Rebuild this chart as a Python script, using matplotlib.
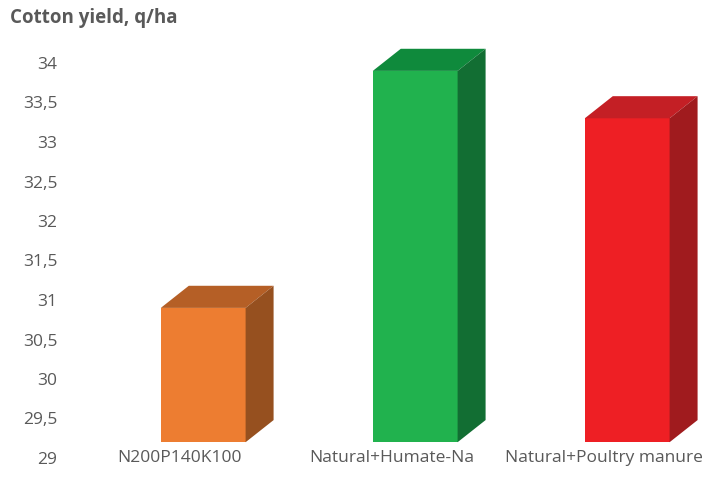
import matplotlib
matplotlib.use("Agg")
import matplotlib.pyplot as plt
from matplotlib.patches import Polygon

plt.rcParams['font.family'] = ['Open Sans', 'DejaVu Sans']

categories = ["N200P140K100", "Natural+Humate-Na", "Natural+Poultry manure"]
values = [30.9, 33.9, 33.3]
yticks = [29, 29.5, 30, 30.5, 31, 31.5, 32, 32.5, 33, 33.5, 34]
ytick_labels = ["29", "29,5", "30", "30,5", "31", "31,5", "32", "32,5", "33", "33,5", "34"]
front_colors = ["#ED7D31", "#21B24E", "#EE1F24"]
top_colors = ["#B55F26", "#0F8A3C", "#C41F25"]
side_colors = ["#96501F", "#126E33", "#A01B1E"]

base = 29.2
width = 0.40
dx, dy = 0.132, 0.28

fig = plt.figure(figsize=(7.06, 4.95), dpi=100)
ax = fig.add_axes([76 / 706, 37 / 495, (706 - 76) / 706, 5.3 * 79 / 495])
ax.set_xlim(-0.6, -0.6 + (706 - 76) / 212)
ax.set_ylim(29, 34.3)

for i, (v, fc, tc, sc) in enumerate(zip(values, front_colors, top_colors, side_colors)):
    x0, x1 = i - width / 2, i + width / 2
    ax.bar(i, v - base, bottom=base, width=width, color=fc, edgecolor='none', zorder=3)
    top = Polygon([(x0, v), (x1, v), (x1 + dx, v + dy), (x0 + dx, v + dy)],
                  closed=True, facecolor=tc, edgecolor='none', zorder=3)
    side = Polygon([(x1, base), (x1, v), (x1 + dx, v + dy), (x1 + dx, base + dy)],
                   closed=True, facecolor=sc, edgecolor='none', zorder=3)
    ax.add_patch(top)
    ax.add_patch(side)
    ax.text(i - 0.11, 29, categories[i], ha='center', va='center',
            fontsize=12.5, color='#595959')

ax.set_yticks(yticks)
ax.set_yticklabels(ytick_labels, fontsize=12.5, color='#595959')
ax.tick_params(axis='y', length=0, pad=13.5)
ax.set_xticks([])
for s in ax.spines.values():
    s.set_visible(False)

fig.text(10 / 706, 1 - 18 / 495, "Cotton yield, q/ha", ha='left', va='center',
         fontsize=13.5, fontweight='bold', color='#595959')

fig.savefig("out.png", dpi=100)
